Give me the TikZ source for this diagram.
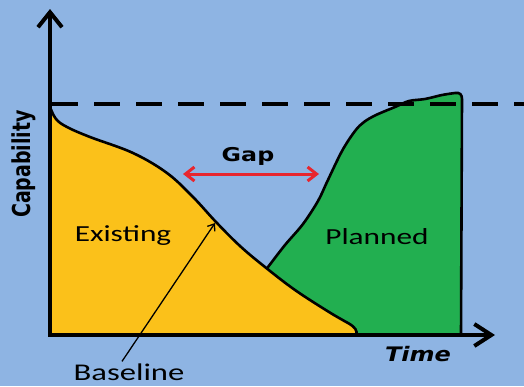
\documentclass[tikz,border=0pt]{standalone}
\usepackage{fontspec}
\usetikzlibrary{arrows.meta}
\newfontfamily\calfont{Carlito}
\newfontfamily\dvfont{DejaVu Sans}
\definecolor{bgc}{HTML}{8EB4E3}
\definecolor{yelc}{HTML}{FBC11A}
\definecolor{grnc}{HTML}{22AF50}
\definecolor{redc}{HTML}{E8262E}
\tikzset{
  axisline/.style={line width=4pt, line join=miter, {Straight Barb[length=15pt,width=24pt,line width=4pt]}-{Straight Barb[length=17pt,width=22pt,line width=4pt]}},
  outline/.style={line width=2.6pt, line cap=round, line join=round},
  dashline/.style={line width=4.2pt, dash pattern=on 26pt off 16pt},
  gaparrow/.style={line width=3pt, redc, {Straight Barb[length=9pt,width=14pt]}-{Straight Barb[length=9pt,width=14pt]}},
  basearrow/.style={line width=1.3pt, -{Straight Barb[length=6pt,width=9pt]}},
  caltext/.style={font=\calfont\fontsize{23}{26}\selectfont, inner sep=0pt},
  boldtext/.style={font=\dvfont\bfseries, inner sep=0pt}
}
\begin{document}
\begin{tikzpicture}[x=1pt,y=-1pt]
\useasboundingbox (0,0) rectangle (524,386);
\fill[bgc] (0,0) rectangle (524,386);
% named points
\coordinate (O) at (50,335);
\coordinate (ytop) at (50,9);
\coordinate (xend) at (495,335);
\coordinate (gapL) at (183,174);
\coordinate (gapR) at (319,174);
\coordinate (btip) at (215,223);
\coordinate (dashL) at (52,104);
\coordinate (dashR) at (524,104);
% planned (green)
\fill[grnc] plot[smooth,tension=0.55] coordinates {(250,300) (261,276) (268,267) (285,245) (303,224) (318,201) (327,182) (342,151) (355,131) (364,122) (376,115) (395,107) (409,101) (425,99) (442,95) (455,93)}
  -- (459,93) -- (462,97) -- (461,335) -- (250,335) -- cycle;
\draw[outline] plot[smooth,tension=0.55] coordinates {(250,300) (261,276) (268,267) (285,245) (303,224) (318,201) (327,182) (342,151) (355,131) (364,122) (376,115) (395,107) (409,101) (425,99) (442,95) (455,93)}
  .. controls (460,92) and (462,95) .. (462,99) -- (461,335);
% existing (yellow)
\fill[yelc] plot[smooth,tension=0.6] coordinates {(50,107) (56,119) (67,127) (90,137) (133,153) (167,173) (193,197) (216,222) (240,246) (265,267) (295,290) (329,312) (348,323)}
  .. controls (355,327) and (358,331) .. (356,335) -- (50,335) -- cycle;
\draw[outline] plot[smooth,tension=0.6] coordinates {(50,107) (56,119) (67,127) (90,137) (133,153) (167,173) (193,197) (216,222) (240,246) (265,267) (295,290) (329,312) (348,323)}
  .. controls (355,327) and (358,331) .. (356,335);
% dashed line
\draw[dashline] (dashL) -- (dashR);
% axes
\draw[axisline] (ytop) -- (O) -- (xend);
% labels
\node[caltext] (existing) at (123,236) {\scalebox{1.36}[1]{Existing}};
\node[caltext] (planned) at (377,237) {\scalebox{1.36}[1]{Planned}};
\node[caltext, font=\calfont\fontsize{24}{27}\selectfont] (baseline) at (129,372) {\scalebox{1.36}[1]{Baseline}};
\node[boldtext, font=\dvfont\bfseries\fontsize{19}{22}\selectfont] (gap) at (248,156) {\scalebox{1.25}[1]{Gap}};
\node[boldtext, font=\dvfont\bfseries\itshape\fontsize{20}{23}\selectfont] (time) at (418,354) {\scalebox{1.2}[1]{Time}};
\node[boldtext, font=\dvfont\bfseries\fontsize{19}{22}\selectfont, rotate=90] (cap) at (24,164) {\scalebox{1}[1.3]{Capability}};
% arrows
\draw[gaparrow] (gapL) -- (gapR);
\draw[basearrow] ([xshift=-7pt,yshift=2pt]baseline.north) -- (btip);
\end{tikzpicture}
\end{document}
